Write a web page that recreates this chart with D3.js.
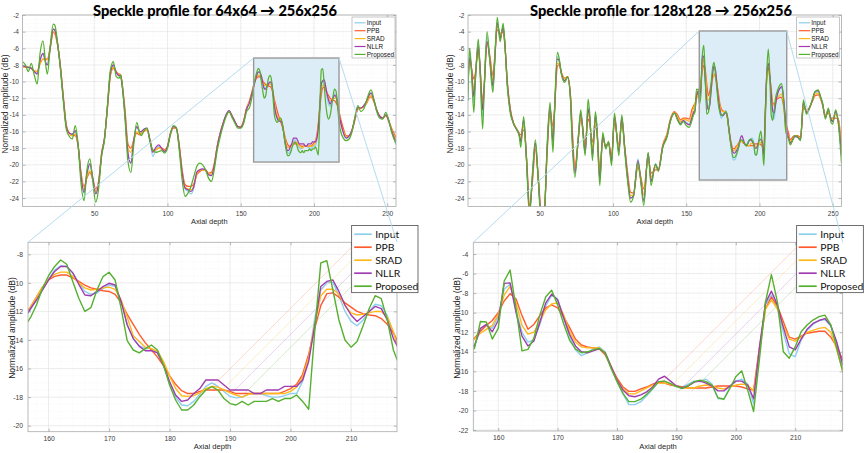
<!DOCTYPE html>
<html><head><meta charset="utf-8">
<script src="https://cdn.jsdelivr.net/npm/d3@7"></script>
<style>body{margin:0;background:#fff}svg{display:block}</style>
</head><body><svg id="c" width="865" height="453"></svg>
<script>
// ---------------- DATA ----------------
const seriesNames = ["Input","PPB","SRAD","NLLR","Proposed"];
const seriesColors = ["#8ccfee","#ff5b2e","#ffb81c","#a03cb0","#56b030"];
const titles = ["Speckle profile for 64x64 \u2192 256x256","Speckle profile for 128x128 \u2192 256x256"];
const xLabel = "Axial depth";
const yLabel = "Normalized amplitude (dB)";
const topXTicks = [50,100,150,200,250];
const topYTicks = [-24,-22,-20,-18,-16,-14,-12,-10,-8,-6,-4,-2];
const zoomXTicks = [160,170,180,190,200,210];
const zoomYTicks64 = [-20,-18,-16,-14,-12,-10,-8];
const zoomYTicks128 = [-22,-20,-18,-16,-14,-12,-10,-8,-6,-4];

const depth64 = [1,3,5,7,9,11,13,15,17,18,20,22,23,25,27,29,31,33,35,37,39,41,43,45,47,49,51,53,55,57,59,61,63,65,67,68,69,71,73,75,77,79,81,82,84,86,88,90,92,94,96,98,100,102,104,106,108,110,112,114,116,118,120,122,124,126,128,130,132,134,136,138,140,142,144,146,148,150,152,154,156,
157,158,159,160,161,162,163,164,165,166,167,168,169,170,171,172,173,174,175,176,177,178,179,180,181,182,183,184,185,186,187,188,189,190,191,192,193,194,195,196,197,198,199,200,201,202,203,204,205,206,207,208,209,210,211,212,213,214,215,216,217,
218,220,222,224,226,228,230,232,234,236,238,239,241,243,245,247,249,251,253,256];

const input64 = [-8.1,-8.2,-8.3,-8.4,-8.8,-9.0,-7.5,-6.6,-7.8,-8.0,-6.0,-3.7,-3.8,-5.6,-8.5,-12.3,-15.5,-16.2,-16.4,-16.0,-17.8,-21.5,-23.4,-21.2,-19.9,-21.6,-23.4,-22.0,-18.8,-16.8,-13.0,-9.0,-8.1,-8.9,-9.3,-9.4,-10.5,-14.0,-18.6,-19.8,-17.0,-15.4,-16.0,-16.1,-15.8,-15.7,-17.0,-19.0,-18.2,-17.8,-18.2,-18.5,-17.8,-16.2,-15.4,-15.6,-17.8,-21.0,-22.9,-23.2,-23.5,-22.8,-21.0,-20.6,-20.6,-20.7,-21.2,-21.2,-20.0,-17.8,-16.2,-15.0,-14.0,-13.5,-14.1,-14.8,-15.4,-15.5,-14.8,-13.3,-12.4,
-11.9,-11.2,-10.5,-9.75,-9.1,-8.8,-8.85,-9.3,-10.0,-10.6,-10.8,-10.7,-10.4,-10.15,-10.25,-11.3,-12.9,-13.9,-14.4,-14.6,-14.6,-14.9,-15.8,-17.0,-18.0,-18.55,-18.6,-18.3,-17.8,-17.25,-17.0,-17.25,-17.6,-17.95,-18.05,-18.0,-17.8,-17.75,-17.75,-17.9,-18.0,-18.0,-17.9,-17.75,-17.75,-16.9,-15.3,-12.5,-10.5,-10.0,-9.95,-10.9,-12.0,-12.7,-13.0,-12.6,-12.0,-11.5,-11.6,-12.3,-13.5,
-14.6,-16.2,-16.8,-16.6,-15.8,-14.4,-13.1,-13.2,-12.9,-12.3,-11.6,-11.4,-12.3,-13.5,-14.2,-14.4,-14.0,-14.7,-15.9,-17.6];

const ppb64 = [-8.2,-8.25,-8.3,-8.4,-8.7,-8.8,-7.8,-7.3,-7.3,-7.3,-5.8,-4.1,-4.2,-5.7,-8.3,-12.0,-15.3,-16.2,-16.5,-16.5,-17.8,-21.0,-22.6,-21.6,-20.9,-21.8,-22.9,-22.0,-18.6,-16.8,-13.2,-9.3,-8.4,-8.8,-9.1,-9.2,-10.2,-13.4,-17.5,-18.0,-17.0,-16.2,-16.4,-16.3,-16.0,-15.8,-17.0,-18.3,-18.2,-18.0,-18.0,-18.2,-17.8,-16.4,-15.6,-15.6,-17.6,-20.6,-22.4,-22.6,-22.6,-22.3,-21.2,-20.8,-20.6,-20.6,-21.0,-20.9,-19.8,-17.7,-16.2,-15.0,-14.1,-13.6,-14.1,-14.8,-15.4,-15.4,-14.7,-13.2,-12.3,
-11.7,-11.0,-10.3,-9.8,-9.55,-9.45,-9.45,-9.65,-9.9,-10.15,-10.35,-10.45,-10.55,-10.6,-10.8,-11.4,-12.2,-12.9,-13.6,-14.2,-14.7,-15.2,-15.8,-16.5,-17.1,-17.55,-17.75,-17.75,-17.6,-17.5,-17.5,-17.5,-17.5,-17.6,-17.75,-17.75,-17.75,-17.75,-17.75,-17.75,-17.75,-17.75,-17.6,-17.4,-17.1,-16.4,-15.0,-13.2,-11.6,-10.75,-10.7,-11.0,-11.4,-11.7,-12.0,-12.15,-12.25,-12.3,-12.5,-12.9,-13.5,
-14.3,-15.6,-16.5,-16.5,-15.9,-14.6,-13.3,-13.2,-13.0,-12.6,-11.9,-11.85,-12.5,-13.5,-14.2,-14.4,-14.1,-14.7,-15.6,-16.7];

const srad64 = [-8.2,-8.2,-8.3,-8.4,-8.7,-8.8,-7.9,-7.3,-7.4,-7.4,-5.9,-4.0,-4.1,-5.6,-8.4,-12.2,-15.4,-16.2,-16.5,-16.3,-17.8,-21.2,-23.0,-21.4,-20.7,-21.8,-23.2,-22.0,-18.6,-16.8,-13.1,-9.2,-8.3,-8.8,-9.2,-9.3,-10.3,-13.7,-18.0,-18.5,-17.0,-16.0,-16.3,-16.2,-15.9,-15.8,-17.0,-18.4,-18.2,-18.0,-18.1,-18.3,-17.8,-16.3,-15.5,-15.6,-17.7,-20.8,-22.7,-22.9,-23.0,-22.5,-21.1,-20.6,-20.6,-20.7,-21.1,-21.1,-19.9,-17.7,-16.2,-15.0,-14.1,-13.6,-14.1,-14.8,-15.4,-15.5,-14.7,-13.2,-12.3,
-11.7,-11.0,-10.3,-9.75,-9.4,-9.25,-9.25,-9.55,-10.0,-10.35,-10.5,-10.45,-10.35,-10.3,-10.45,-11.2,-12.4,-13.7,-14.1,-14.5,-14.6,-14.8,-15.5,-16.5,-17.4,-17.9,-17.95,-17.9,-17.7,-17.4,-17.25,-17.3,-17.5,-17.7,-17.85,-18.0,-17.8,-17.75,-17.75,-17.75,-17.75,-17.75,-17.75,-17.6,-17.3,-16.6,-15.2,-12.9,-10.9,-10.45,-10.45,-10.8,-11.6,-12.1,-12.25,-12.2,-12.1,-12.0,-12.0,-12.4,-13.4,
-14.9,-15.9,-16.6,-16.5,-15.8,-14.5,-13.2,-13.2,-13.0,-12.5,-11.8,-11.7,-12.4,-13.5,-14.2,-14.4,-14.1,-14.7,-15.7,-17.0];

const nllr64 = [-8.1,-8.2,-8.3,-8.4,-8.8,-9.1,-7.4,-6.6,-7.8,-8.0,-5.8,-3.7,-3.8,-5.5,-8.5,-12.3,-15.5,-16.2,-16.3,-15.9,-17.7,-21.4,-23.3,-21.0,-19.9,-21.6,-23.5,-22.2,-18.8,-16.8,-13.0,-9.0,-8.0,-8.9,-9.3,-9.3,-10.4,-14.0,-18.6,-19.8,-17.0,-15.4,-16.0,-16.0,-15.7,-15.6,-17.0,-18.5,-17.9,-17.6,-18.0,-18.4,-17.8,-16.2,-15.4,-15.6,-17.8,-21.0,-22.8,-23.0,-23.2,-22.6,-20.9,-20.6,-20.5,-20.6,-21.2,-21.3,-20.0,-17.8,-16.2,-15.0,-14.0,-13.5,-14.1,-14.8,-15.4,-15.5,-14.8,-13.3,-12.5,
-11.8,-11.2,-10.5,-9.8,-9.2,-8.85,-8.85,-9.3,-10.1,-10.85,-10.9,-10.6,-10.26,-10.03,-10.15,-11.3,-12.95,-13.9,-14.45,-14.75,-14.75,-14.9,-15.75,-16.9,-17.85,-18.3,-18.2,-17.75,-17.4,-16.8,-16.8,-16.8,-17.15,-17.5,-17.5,-17.5,-17.5,-17.75,-17.75,-17.5,-17.5,-17.5,-17.25,-17.25,-17.25,-16.8,-15.5,-13.0,-10.26,-9.9,-9.8,-10.6,-11.55,-12.25,-12.7,-12.35,-12.0,-11.65,-11.8,-12.6,-13.9,
-14.7,-16.1,-16.8,-16.5,-15.8,-14.4,-13.1,-13.2,-12.9,-12.3,-11.5,-11.4,-12.3,-13.5,-14.2,-14.4,-14.0,-14.7,-15.9,-17.3];

const proposed64 = [-7.6,-8.0,-8.8,-7.8,-9.2,-10.3,-6.6,-5.1,-8.2,-9.1,-5.6,-3.1,-3.2,-5.4,-8.7,-12.6,-15.8,-16.6,-16.9,-15.3,-17.6,-22.3,-24.3,-20.6,-19.3,-22.0,-24.5,-22.8,-19.0,-17.0,-12.8,-8.6,-7.6,-9.4,-9.6,-9.2,-10.2,-14.5,-19.6,-20.9,-17.5,-14.9,-16.2,-16.5,-15.9,-15.6,-17.2,-18.2,-18.5,-18.4,-18.3,-18.6,-18.0,-16.3,-15.3,-15.5,-18.2,-21.8,-23.8,-23.4,-22.6,-21.4,-20.2,-19.8,-20.0,-20.6,-21.6,-22.0,-20.5,-18.2,-16.6,-15.3,-14.2,-13.6,-14.3,-15.0,-15.6,-15.6,-15.0,-13.6,-13.1,
-12.44,-11.55,-10.38,-9.5,-8.85,-8.4,-8.7,-9.9,-11.08,-12.0,-11.74,-10.5,-9.56,-9.26,-9.8,-11.8,-14.05,-14.7,-14.9,-14.6,-14.35,-14.7,-15.75,-17.15,-18.2,-18.9,-18.9,-18.55,-17.97,-17.5,-17.27,-17.5,-18.1,-18.45,-18.55,-18.3,-18.55,-18.3,-18.3,-18.3,-18.1,-18.3,-18.1,-18.1,-17.85,-18.3,-18.85,-13.4,-8.6,-8.45,-10.5,-12.6,-14.0,-14.5,-14.1,-13.0,-11.8,-10.9,-11.1,-12.6,-14.7,
-15.8,-16.8,-17.1,-16.9,-16.0,-14.2,-12.9,-13.6,-13.3,-12.2,-11.2,-11.0,-12.2,-13.7,-14.4,-14.5,-13.7,-14.6,-16.1,-17.4];

const depth128 = [1,2,3,5,6,8,9,11,12,14,16,18,19,21,22,23,25,26,28,30,32,34,36,37,39,41,43,45,47,49,51,53,55,57,59,60,62,63,65,67,69,71,72,74,76,78,79,81,83,84,86,88,89,91,93,95,97,99,101,104,106,108,110,112,114,117,119,121,124,126,129,131,134,137,139,142,144,146,148,150,152,154,155,
156,157,158,159,160,161,162,163,164,165,166,167,168,169,170,171,172,173,174,175,176,177,178,179,180,181,182,183,184,185,186,187,188,189,190,191,192,193,194,195,196,197,198,199,200,201,202,203,204,205,206,207,208,209,210,211,212,213,214,215,216,217,218,
220,221,223,224,226,228,230,232,234,236,238,240,242,243,245,247,249,250,252,254,256];

const input128 = [-11.5,-6.5,-8.0,-12.5,-10.0,-5.3,-7.5,-14.3,-11.0,-4.6,-7.5,-10.8,-8.5,-2.8,-3.6,-4.8,-3.4,-5.0,-10.6,-13.6,-15.0,-15.7,-16.4,-17.3,-14.8,-19.5,-25.8,-21.5,-17.4,-21.8,-26.3,-26.0,-18.2,-13.0,-17.6,-14.0,-7.0,-7.3,-9.2,-9.9,-9.5,-12.0,-16.0,-21.0,-17.5,-13.8,-15.0,-18.5,-13.0,-14.0,-19.0,-14.0,-15.5,-21.8,-16.5,-17.8,-17.3,-19.7,-14.2,-18.4,-14.3,-18.0,-21.6,-24.0,-23.7,-19.3,-21.8,-24.5,-18.7,-21.9,-19.9,-20.5,-17.8,-16.4,-14.8,-13.8,-14.4,-15.0,-14.6,-14.9,-15.1,-14.2,-13.8,
-13.3,-11.8,-11.3,-11.6,-10.4,-7.6,-7.1,-9.8,-12.0,-13.0,-12.8,-11.2,-9.3,-8.2,-8.6,-10.5,-12.4,-13.8,-14.4,-14.1,-13.7,-13.5,-14.0,-15.5,-17.0,-18.3,-19.4,-19.4,-19.1,-18.5,-17.8,-17.1,-17.0,-17.3,-17.5,-17.6,-17.3,-17.0,-17.0,-16.8,-17.3,-18.8,-18.8,-17.6,-17.0,-16.8,-17.3,-19.3,-14.0,-9.2,-8.2,-9.6,-12.0,-14.2,-14.5,-12.8,-11.8,-11.2,-10.8,-10.7,-11.4,-13.2,-15.8,
-16.8,-17.4,-16.9,-16.6,-16.7,-17.0,-12.6,-13.6,-13.2,-12.3,-11.3,-11.2,-12.0,-12.6,-14.2,-13.4,-14.6,-14.8,-13.6,-15.0,-18.9];

const ppb128 = [-9.6,-7.6,-8.0,-9.7,-9.0,-6.3,-7.8,-12.4,-10.5,-5.3,-7.0,-9.3,-7.5,-3.8,-4.0,-4.2,-4.0,-5.3,-10.3,-13.4,-14.9,-15.6,-16.2,-16.4,-15.8,-19.2,-25.0,-22.0,-18.1,-21.6,-25.6,-25.6,-18.6,-13.6,-15.4,-13.5,-8.2,-8.0,-9.0,-9.6,-9.4,-11.7,-15.0,-20.2,-17.5,-14.5,-15.2,-17.7,-14.5,-14.9,-17.3,-15.3,-16.2,-20.4,-17.0,-17.6,-17.5,-18.9,-15.0,-17.6,-15.0,-17.8,-21.0,-23.3,-23.4,-20.3,-21.5,-22.9,-19.2,-21.0,-20.6,-20.6,-17.6,-16.2,-14.6,-13.6,-14.0,-14.6,-14.4,-14.4,-14.5,-13.3,-12.9,
-12.6,-11.9,-11.3,-10.8,-10.0,-8.8,-8.05,-8.6,-10.3,-11.7,-11.2,-10.3,-9.5,-9.2,-9.5,-10.4,-11.5,-12.7,-13.3,-13.5,-13.6,-13.7,-14.3,-15.5,-16.7,-17.6,-18.05,-18.05,-17.8,-17.6,-17.3,-17.1,-17.2,-17.4,-17.5,-17.6,-17.7,-17.7,-17.7,-17.7,-17.6,-17.5,-17.5,-17.5,-17.5,-17.6,-17.8,-17.9,-13.5,-9.6,-8.4,-9.3,-10.9,-12.5,-12.7,-12.4,-12.1,-12.0,-11.9,-11.9,-12.5,-13.5,-14.8,
-16.3,-17.0,-16.6,-16.5,-16.5,-16.7,-13.2,-13.4,-13.2,-12.4,-11.7,-11.6,-12.2,-12.8,-14.0,-13.8,-14.4,-14.4,-14.4,-14.6,-18.2];

const srad128 = [-10.5,-7.3,-8.0,-11.0,-9.4,-5.8,-7.7,-13.2,-10.8,-5.2,-7.2,-9.9,-8.0,-3.4,-3.9,-4.5,-3.8,-5.2,-10.5,-13.5,-15.0,-15.7,-16.3,-16.9,-15.3,-19.3,-25.3,-21.8,-17.8,-21.7,-25.9,-25.8,-18.5,-13.4,-16.3,-13.7,-7.8,-7.8,-9.1,-9.7,-9.4,-11.8,-15.5,-20.6,-17.5,-14.2,-15.1,-18.1,-13.8,-14.5,-18.0,-14.7,-15.8,-21.0,-16.8,-17.7,-17.4,-19.3,-14.6,-18.0,-14.6,-17.9,-21.4,-23.7,-23.6,-19.8,-21.7,-23.6,-19.0,-21.5,-20.3,-20.5,-17.7,-16.3,-14.7,-13.7,-14.2,-14.8,-14.5,-14.6,-14.8,-13.8,-13.2,
-12.7,-12.1,-11.7,-11.3,-10.2,-8.2,-7.3,-9.0,-11.3,-12.2,-12.0,-10.9,-9.7,-9.1,-9.0,-10.2,-11.9,-13.0,-13.5,-13.6,-13.6,-13.6,-14.1,-15.5,-16.9,-17.8,-18.3,-18.3,-18.0,-17.7,-17.4,-17.2,-17.2,-17.3,-17.5,-17.7,-17.7,-17.7,-17.5,-17.4,-17.5,-17.7,-17.8,-17.6,-17.4,-17.3,-17.4,-18.0,-13.8,-9.6,-8.7,-9.6,-11.3,-12.7,-12.9,-12.5,-12.0,-11.8,-11.6,-11.5,-12.0,-13.8,-16.0,
-16.6,-17.2,-16.8,-16.5,-16.6,-16.9,-12.9,-13.5,-13.2,-12.4,-11.5,-11.4,-12.2,-12.7,-14.1,-13.6,-14.5,-14.5,-14.0,-14.8,-18.6];

const nllr128 = [-11.0,-7.2,-7.8,-11.8,-9.6,-5.8,-7.6,-13.4,-10.9,-5.2,-7.5,-10.5,-8.2,-3.0,-3.8,-4.8,-3.5,-5.0,-10.6,-13.6,-15.0,-15.7,-16.4,-17.2,-14.6,-19.5,-25.6,-21.4,-17.4,-21.8,-26.2,-26.0,-18.2,-13.0,-17.2,-13.9,-7.3,-7.4,-9.2,-9.9,-9.5,-12.0,-16.0,-21.0,-17.5,-13.8,-15.0,-18.5,-13.3,-14.2,-18.8,-14.1,-15.6,-21.6,-16.5,-17.9,-17.3,-19.6,-14.2,-18.4,-14.3,-18.0,-21.6,-24.0,-23.7,-19.5,-21.9,-24.3,-18.6,-22.0,-20.0,-20.6,-17.8,-16.5,-14.8,-13.8,-14.5,-15.1,-14.7,-15.0,-15.2,-14.3,-13.7,
-13.4,-11.6,-11.2,-11.95,-10.8,-7.0,-6.95,-10.0,-12.4,-13.4,-12.9,-11.0,-9.0,-8.1,-8.7,-10.5,-12.2,-13.4,-14.0,-14.1,-13.9,-13.7,-14.1,-15.5,-16.9,-17.9,-18.5,-18.6,-18.4,-18.1,-17.6,-16.8,-16.5,-17.0,-17.5,-17.7,-17.5,-17.1,-17.0,-17.2,-17.5,-18.0,-18.0,-17.5,-17.0,-17.0,-17.4,-18.8,-13.5,-9.0,-7.8,-9.2,-11.5,-13.5,-13.8,-12.7,-11.7,-11.1,-10.8,-10.6,-11.3,-13.0,-15.3,
-16.8,-17.4,-16.9,-16.6,-16.7,-17.0,-12.5,-13.7,-13.2,-12.3,-11.2,-11.1,-12.0,-12.6,-14.3,-13.4,-14.6,-14.8,-13.6,-15.1,-18.8];

const proposed128 = [-12.3,-6.0,-7.5,-13.7,-10.0,-4.9,-7.8,-15.7,-11.2,-4.0,-7.8,-11.3,-8.3,-2.3,-4.0,-5.2,-3.0,-5.0,-11.0,-13.9,-15.0,-15.7,-16.6,-17.9,-14.2,-19.7,-26.2,-21.0,-17.0,-21.9,-26.8,-26.3,-17.8,-12.5,-18.5,-14.0,-6.5,-7.0,-9.3,-10.1,-9.4,-12.3,-16.8,-21.5,-17.3,-13.4,-15.2,-18.9,-12.1,-13.6,-19.5,-13.6,-15.3,-22.5,-16.1,-18.1,-17.2,-20.1,-13.8,-18.9,-14.0,-18.4,-22.0,-24.5,-23.8,-19.7,-22.1,-24.9,-18.5,-22.5,-19.9,-20.8,-17.9,-16.6,-14.9,-13.8,-14.6,-15.2,-14.8,-15.3,-15.5,-14.6,-14.0,
-13.65,-10.9,-10.95,-12.7,-11.6,-6.76,-5.64,-9.56,-13.9,-13.75,-12.6,-10.25,-8.36,-7.7,-9.2,-11.1,-12.8,-13.7,-14.1,-14.0,-13.8,-13.65,-14.15,-15.7,-17.05,-18.25,-19.1,-19.1,-18.85,-18.35,-17.75,-17.05,-17.0,-17.25,-17.55,-17.75,-17.45,-17.05,-16.9,-17.05,-17.4,-18.7,-18.85,-17.75,-16.55,-15.95,-17.9,-20.1,-14.65,-8.9,-6.1,-8.9,-14.0,-14.65,-13.5,-11.95,-11.25,-10.75,-10.4,-10.25,-11.25,-13.65,-16.0,
-17.0,-17.6,-16.9,-16.5,-16.6,-17.1,-12.2,-13.9,-13.3,-12.2,-11.2,-11.0,-12.0,-12.5,-14.5,-13.2,-15.0,-15.1,-13.4,-15.3,-19.8];

// magnified window (data coords on the overview axes)
const insetX64 = [158.8, 217.1], insetY64 = [-19.67, -7.17];
const insetX128 = [158.9, 218.6], insetY128 = [-21.83, -3.92];

// ---------------- DRAWING ----------------
const svg = d3.select("#c");
const FONT = "'Liberation Sans', Arial, sans-serif";
let clipN = 0;

function drawPanel(cfg) {
  const g = svg.append("g");
  const x = d3.scaleLinear().domain(cfg.xd).range(cfg.xr);
  const y = d3.scaleLinear().domain(cfg.yd).range(cfg.yr);
  const [x0, x1] = cfg.xr, [yb, yt] = cfg.yr;
  const id = "clip" + (clipN++);
  svg.append("clipPath").attr("id", id).append("rect")
    .attr("x", x0).attr("y", yt).attr("width", x1 - x0).attr("height", yb - yt);

  g.append("rect").attr("x", x0).attr("y", yt).attr("width", x1 - x0).attr("height", yb - yt).attr("fill", "#fff");

  const mg = g.append("g").attr("stroke", "#eeeeee").attr("stroke-width", 0.5).attr("stroke-dasharray", "1,1.5");
  mg.selectAll(".mx").data(cfg.minorX).join("line").attr("x1", d => x(d)).attr("x2", d => x(d)).attr("y1", yt).attr("y2", yb);
  mg.selectAll(".my").data(cfg.minorY).join("line").attr("y1", d => y(d)).attr("y2", d => y(d)).attr("x1", x0).attr("x2", x1);
  const gg = g.append("g").attr("stroke", "#e2e2e2").attr("stroke-width", 0.6);
  gg.selectAll(".gx").data(cfg.xt).join("line").attr("x1", d => x(d)).attr("x2", d => x(d)).attr("y1", yt).attr("y2", yb);
  gg.selectAll(".gy").data(cfg.yt).join("line").attr("y1", d => y(d)).attr("y2", d => y(d)).attr("x1", x0).attr("x2", x1);

  let box = null;
  if (cfg.inset) {
    box = {x: x(cfg.inset.x[0]), y: y(cfg.inset.y[1]),
           w: x(cfg.inset.x[1]) - x(cfg.inset.x[0]), h: y(cfg.inset.y[0]) - y(cfg.inset.y[1])};
    g.append("rect").attr("x", box.x).attr("y", box.y).attr("width", box.w).attr("height", box.h).attr("fill", "#dcedf8");
  }

  const lines = g.append("g").attr("clip-path", `url(#${id})`);
  const lineGen = d3.line().x(d => x(d[0])).y(d => y(d[1])).curve(cfg.curve);
  cfg.series.forEach((s, k) => {
    const pts = cfg.depth.map((d, i) => [d, s[i]]);
    lines.append("path").datum(pts).attr("d", lineGen)
      .attr("fill", "none").attr("stroke", seriesColors[k])
      .attr("stroke-width", cfg.lw).attr("stroke-linejoin", "round");
  });

  if (box) {
    g.append("rect").attr("x", box.x).attr("y", box.y).attr("width", box.w).attr("height", box.h)
      .attr("fill", "none").attr("stroke", "#9a9a9a").attr("stroke-width", 1.4);
  }

  const fmt = d => String(d);
  const style = sel => {
    sel.select(".domain").remove();
    sel.selectAll(".tick line").attr("stroke", "#8c8c8c").attr("stroke-width", 0.6);
    sel.selectAll(".tick text").attr("fill", "#404040").style("font-family", FONT).style("font-size", cfg.tickFont + "px");
  };
  g.append("g").attr("transform", `translate(0,${yb})`)
    .call(d3.axisBottom(x).tickValues(cfg.xt).tickFormat(fmt).tickSizeInner(-3).tickSizeOuter(0).tickPadding(cfg.xPad)).call(style);
  g.append("g").attr("transform", `translate(0,${yt})`)
    .call(d3.axisTop(x).tickValues(cfg.xt).tickFormat("").tickSizeInner(-3).tickSizeOuter(0)).call(style);
  g.append("g").attr("transform", `translate(${x0},0)`)
    .call(d3.axisLeft(y).tickValues(cfg.yt).tickFormat(fmt).tickSizeInner(-3).tickSizeOuter(0).tickPadding(cfg.yPad)).call(style);
  g.append("g").attr("transform", `translate(${x1},0)`)
    .call(d3.axisRight(y).tickValues(cfg.yt).tickFormat("").tickSizeInner(-3).tickSizeOuter(0)).call(style);

  g.append("rect").attr("x", x0).attr("y", yt).attr("width", x1 - x0).attr("height", yb - yt)
    .attr("fill", "none").attr("stroke", "#aaaaaa").attr("stroke-width", 0.8);

  g.append("text").attr("x", (x0 + x1) / 2).attr("y", cfg.xLabelY).attr("text-anchor", "middle")
    .style("font-family", FONT).style("font-size", cfg.labelFont + "px").attr("fill", "#262626").text(xLabel);
  g.append("text").attr("transform", `translate(${cfg.yLabelX},${cfg.yLabelCY}) rotate(-90)`).attr("text-anchor", "middle")
    .style("font-family", FONT).style("font-size", (cfg.labelFont + 1) + "px").attr("fill", "#262626").text(yLabel);

  const L = cfg.legend;
  const lg = g.append("g");
  lg.append("rect").attr("x", L.x).attr("y", L.y).attr("width", L.w).attr("height", L.h)
    .attr("fill", "#fff").attr("stroke", L.border).attr("stroke-width", L.bw);
  seriesNames.forEach((n, k) => {
    const yy = L.y + L.first + k * L.step;
    lg.append("line").attr("x1", L.x + L.l0).attr("x2", L.x + L.l1).attr("y1", yy).attr("y2", yy)
      .attr("stroke", seriesColors[k]).attr("stroke-width", L.lw);
    lg.append("text").attr("x", L.x + L.tx).attr("y", yy).attr("dy", "0.35em")
      .style("font-family", L.font).style("font-size", L.fs + "px").attr("fill", "#111").text(n);
  });
  return {x, y};
}

const A = drawPanel({
  xd: [1, 256], xr: [22.5, 396], yd: [-25, -2], yr: [206.4, 15],
  depth: depth64, series: [input64, ppb64, srad64, nllr64, proposed64],
  xt: topXTicks, yt: topYTicks, minorX: d3.range(10, 256, 10), minorY: d3.range(-25, -2, 0.5),
  curve: d3.curveMonotoneX, lw: 1.25, tickFont: 6.6, xPad: 5, yPad: 3.5,
  xLabelY: 224, yLabelX: 8, yLabelCY: 104, labelFont: 7.4,
  inset: {x: insetX64, y: insetY64},
  legend: {x: 352, y: 17, w: 43, h: 41, first: 5.8, step: 7.9, l0: 2.5, l1: 13.5, tx: 14.8, lw: 1.2, fs: 6.4, font: FONT, border: "#a0a0a0", bw: 0.6}
});
const B = drawPanel({
  xd: [1, 256], xr: [468, 841.5], yd: [-25, -2], yr: [206.4, 15],
  depth: depth128, series: [input128, ppb128, srad128, nllr128, proposed128],
  xt: topXTicks, yt: topYTicks, minorX: d3.range(10, 256, 10), minorY: d3.range(-25, -2, 0.5),
  curve: d3.curveMonotoneX, lw: 1.25, tickFont: 6.6, xPad: 5, yPad: 3.5,
  xLabelY: 224, yLabelX: 453, yLabelCY: 104, labelFont: 7.4,
  inset: {x: insetX128, y: insetY128},
  legend: {x: 796.7, y: 17, w: 42.6, h: 41, first: 5.8, step: 7.9, l0: 2, l1: 13.5, tx: 14.5, lw: 1.2, fs: 6.4, font: FONT, border: "#a0a0a0", bw: 0.6}
});
const C = drawPanel({
  xd: [156.6, 217.6], xr: [28, 397], yd: [-20.42, -7.16], yr: [431.7, 242.3],
  depth: depth64, series: [input64, ppb64, srad64, nllr64, proposed64],
  xt: zoomXTicks, yt: zoomYTicks64, minorX: d3.range(158, 218, 2), minorY: d3.range(-20, -7, 0.5),
  curve: d3.curveLinear, lw: 1.4, tickFont: 6.8, xPad: 4, yPad: 5,
  xLabelY: 449, yLabelX: 15, yLabelCY: 328, labelFont: 7.6,
  legend: {x: 351.7, y: 225.5, w: 66.3, h: 67.2, first: 8.7, step: 13, l0: 2.5, l1: 20, tx: 23.5, lw: 1.7, fs: 10.4, font: "Lato, 'Open Sans', sans-serif", border: "#333", bw: 0.7}
});
const D = drawPanel({
  xd: [155.8, 218], xr: [473.3, 842.7], yd: [-22.1, -2.8], yr: [431, 242.3],
  depth: depth128, series: [input128, ppb128, srad128, nllr128, proposed128],
  xt: zoomXTicks, yt: zoomYTicks128, minorX: d3.range(156, 219, 2), minorY: d3.range(-22, -2.8, 0.5),
  curve: d3.curveLinear, lw: 1.4, tickFont: 6.8, xPad: 4, yPad: 5,
  xLabelY: 449, yLabelX: 460, yLabelCY: 328, labelFont: 7.6,
  legend: {x: 796.7, y: 225.5, w: 66.6, h: 67.2, first: 8.7, step: 13, l0: 2, l1: 20, tx: 23.5, lw: 1.7, fs: 10.4, font: "Lato, 'Open Sans', sans-serif", border: "#333", bw: 0.7}
});

function faintTraces(lx, ly0, step, drop) {
  const tg = svg.append("g").attr("opacity", 0.22);
  seriesColors.forEach((c, k) => {
    if (k === 0) return;
    const yy = ly0 + k * step;
    const d = drop[k - 1];
    tg.append("line").attr("x1", lx).attr("y1", yy).attr("x2", lx - d).attr("y2", yy + d)
      .attr("stroke", c).attr("stroke-width", 1);
  });
}
faintTraces(351.7, 234.2, 13, [139, 131, 120, 107]);
faintTraces(796.7, 234.2, 13, [137, 127, 118, 105]);

const cg = svg.append("g").attr("stroke", "#b5dcf1").attr("stroke-width", 1).attr("fill", "none");
[[A, insetX64, insetY64, C], [B, insetX128, insetY128, D]].forEach(([P, ix, iy, Z]) => {
  const zx = Z.x.range(), zy = Z.y.range();
  cg.append("line").attr("x1", P.x(ix[0])).attr("y1", P.y(iy[1])).attr("x2", zx[0]).attr("y2", zy[1]);
  cg.append("line").attr("x1", P.x(ix[1])).attr("y1", P.y(iy[1])).attr("x2", zx[1]).attr("y2", zy[1]);
});

[[titles[0], 215, 244], [titles[1], 661, 262]].forEach(([t, cx, w]) => {
  svg.append("text").attr("x", cx).attr("y", 15.5).attr("text-anchor", "middle")
    .attr("textLength", w).attr("lengthAdjust", "spacingAndGlyphs")
    .style("font-family", "Lato, 'Open Sans', sans-serif").style("font-weight", 900).style("font-size", "15.5px")
    .attr("fill", "#000").text(t);
});
</script></body></html>
